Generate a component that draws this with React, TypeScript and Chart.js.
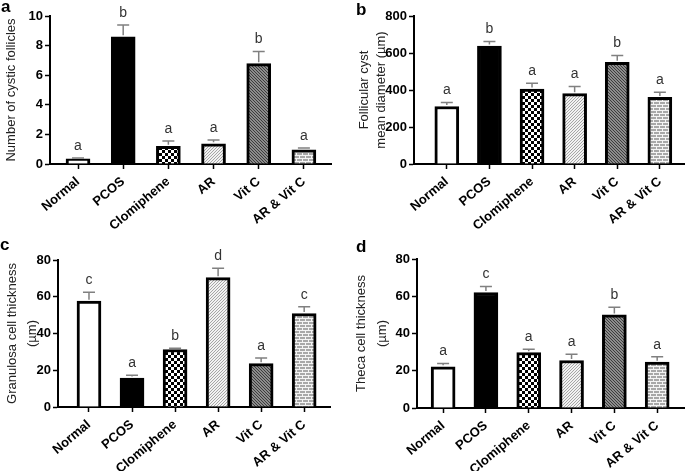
import React, { useEffect, useRef } from 'react';
import { Chart, registerables } from 'chart.js';
Chart.register(...registerables);

const CATEGORIES = ['Normal', 'PCOS', 'Clomiphene', 'AR', 'Vit C', 'AR & Vit C'];
const FILLS = ['white', 'black', 'checker', 'diagUp', 'diagDown', 'brick'];

const FOLLICLE_MEAN = [0.35, 8.6, 1.2, 1.37, 6.78, 0.95];
const FOLLICLE_ERR = [0.05, 0.8, 0.35, 0.25, 0.82, 0.13];
const FOLLICLE_LETTERS = ['a', 'b', 'a', 'a', 'b', 'a'];

const DIAMETER_MEAN = [311, 638, 405, 380, 550, 360];
const DIAMETER_ERR = [22, 24, 32, 39, 36, 28];
const DIAMETER_LETTERS = ['a', 'b', 'a', 'a', 'b', 'a'];

const GRANULOSA_MEAN = [57.6, 15.8, 31.3, 70.4, 23.6, 50.9];
const GRANULOSA_ERR = [4.8, 1.5, 0.7, 5.1, 3.1, 3.6];
const GRANULOSA_LETTERS = ['c', 'a', 'b', 'd', 'a', 'c'];

const THECA_MEAN = [22.1, 62.0, 29.7, 25.5, 50.0, 24.6];
const THECA_ERR = [1.8, 3.3, 1.9, 3.3, 4.1, 2.9];
const THECA_LETTERS = ['a', 'c', 'a', 'a', 'b', 'a'];

function makeFill(kind: string): any {
  if (kind === 'white') return '#ffffff';
  if (kind === 'black') return '#000000';
  const c = document.createElement('canvas');
  const x = c.getContext('2d')!;
  if (kind === 'checker') {
    c.width = 6; c.height = 6;
    x.fillStyle = '#ffffff'; x.fillRect(0, 0, 6, 6);
    x.fillStyle = '#000000'; x.fillRect(0, 0, 3, 3); x.fillRect(3, 3, 3, 3);
  } else if (kind === 'diagUp') {
    c.width = 3; c.height = 3;
    x.fillStyle = '#f2f2f2'; x.fillRect(0, 0, 3, 3);
    x.fillStyle = '#a6a6a6';
    for (let i = 0; i < 3; i++) for (let j = 0; j < 3; j++) if ((i + j) % 3 === 0) x.fillRect(i, j, 1, 1);
  } else if (kind === 'diagDown') {
    c.width = 3; c.height = 3;
    x.fillStyle = '#8c8c8c'; x.fillRect(0, 0, 3, 3);
    x.fillStyle = '#3c3c3c';
    for (let i = 0; i < 3; i++) for (let j = 0; j < 3; j++) if ((i - j + 3) % 3 === 0) x.fillRect(i, j, 1, 1);
  } else if (kind === 'brick') {
    c.width = 6; c.height = 6;
    x.fillStyle = '#f4f4f4'; x.fillRect(0, 0, 6, 6);
    x.fillStyle = '#a8a8a8';
    x.fillRect(0, 0, 5, 2);
    x.fillRect(3, 3, 3, 2); x.fillRect(0, 3, 2, 2);
  }
  return x.createPattern(c, 'repeat');
}

type Panel = {
  mean: number[]; err: number[]; letters: string[];
  yMax: number; yStep: number; yTitle: string | string[];
  left: number; top: number; width: number; height: number;
  yWidth: number; padTop: number; xHeight: number; padRight: number;
  xMin: number; xMax: number; titlePad: number; titleLH: number;
  label: string;
};

const PANELS: Panel[] = [
  { mean: FOLLICLE_MEAN, err: FOLLICLE_ERR, letters: FOLLICLE_LETTERS, yMax: 10, yStep: 2,
    yTitle: 'Number of cystic follicles', left: 0, top: 0, width: 342, height: 235,
    yWidth: 50, padTop: 16, xHeight: 71, padRight: 11, xMin: -0.62, xMax: 5.6, titlePad: 4, titleLH: 1.2, label: 'a' },
  { mean: DIAMETER_MEAN, err: DIAMETER_ERR, letters: DIAMETER_LETTERS, yMax: 800, yStep: 200,
    yTitle: ['Follicular cyst', 'mean diameter (µm)'], left: 342, top: 0, width: 343, height: 235,
    yWidth: 72, padTop: 16, xHeight: 71, padRight: 0, xMin: -0.77, xMax: 5.59, titlePad: 14, titleLH: 1.3, label: 'b' },
  { mean: GRANULOSA_MEAN, err: GRANULOSA_ERR, letters: GRANULOSA_LETTERS, yMax: 80, yStep: 20,
    yTitle: ['Granulosa cell thickness', '(µm)'], left: 0, top: 235, width: 342, height: 236,
    yWidth: 58, padTop: 25, xHeight: 64, padRight: 12, xMin: -0.72, xMax: 5.6, titlePad: 2, titleLH: 1.55, label: 'c' },
  { mean: THECA_MEAN, err: THECA_ERR, letters: THECA_LETTERS, yMax: 80, yStep: 20,
    yTitle: ['Theca cell thickness', '(µm)'], left: 342, top: 235, width: 343, height: 236,
    yWidth: 75, padTop: 24, xHeight: 63, padRight: 0, xMin: -0.61, xMax: 5.65, titlePad: 9, titleLH: 1.6, label: 'd' },
];

const FONT = 'Arial, "Liberation Sans", Helvetica, sans-serif';

function PanelChart({ p }: { p: Panel }) {
  const ref = useRef<HTMLCanvasElement>(null);
  useEffect(() => {
    const fills = FILLS.map(makeFill);
    const annot = {
      id: 'annot',
      afterDatasetsDraw(chart: any) {
        const ctx = chart.ctx;
        const xs = chart.scales.x, ys = chart.scales.y;
        ctx.save();
        p.mean.forEach((m, i) => {
          const cx = xs.getPixelForValue(i);
          const y0 = ys.getPixelForValue(m);
          const y1 = ys.getPixelForValue(m + p.err[i]);
          ctx.strokeStyle = '#808080';
          ctx.lineWidth = 1.5;
          ctx.beginPath();
          ctx.moveTo(cx, y0 - 1.5); ctx.lineTo(cx, y1);
          ctx.moveTo(cx - 6, y1); ctx.lineTo(cx + 6, y1);
          ctx.stroke();
          ctx.fillStyle = '#333333';
          ctx.font = '14px ' + FONT;
          ctx.textAlign = 'center';
          ctx.textBaseline = 'middle';
          ctx.fillText(p.letters[i], cx, y1 - 12);
        });
        ctx.restore();
      },
    };
    const chart = new Chart(ref.current!, {
      type: 'bar',
      data: {
        datasets: [{
          data: p.mean.map((v, i) => ({ x: i, y: v })),
          backgroundColor: fills,
          borderColor: '#000000',
          borderWidth: 3,
          barThickness: 24,
        }],
      },
      options: {
        animation: false,
        responsive: false,
        devicePixelRatio: 1,
        layout: { padding: { top: p.padTop, right: p.padRight, left: 0, bottom: 0 } },
        plugins: { legend: { display: false }, tooltip: { enabled: false } },
        scales: {
          x: {
            type: 'linear', min: p.xMin, max: p.xMax, offset: false,
            afterBuildTicks: (s: any) => { s.ticks = CATEGORIES.map((_, i) => ({ value: i })); },
            afterFit: (s: any) => { s.height = p.xHeight; },
            border: { display: true, color: '#000', width: 2 },
            grid: { offset: false, drawOnChartArea: false, drawTicks: true, tickLength: 5, color: '#000', tickColor: '#000', tickWidth: 1.5 },
            ticks: {
              callback: (v: any) => CATEGORIES[v] ?? '',
              autoSkip: false, minRotation: 40, maxRotation: 40, padding: 5,
              color: '#000', font: { family: FONT, size: 13, weight: 'bold' },
            },
          },
          y: {
            min: 0, max: p.yMax,
            afterFit: (s: any) => { s.width = p.yWidth; },
            border: { display: true, color: '#000', width: 2 },
            grid: { drawOnChartArea: false, drawTicks: true, tickLength: 5, color: '#000', tickColor: '#000', tickWidth: 1.5 },
            ticks: { stepSize: p.yStep, padding: 2, color: '#000', font: { family: FONT, size: 13, weight: 'bold' } },
            title: {
              display: true, text: p.yTitle, color: '#222',
              font: { family: FONT, size: 13, lineHeight: p.titleLH },
              padding: { top: p.titlePad, bottom: 0 },
            },
          },
        },
      } as any,
      plugins: [annot],
    });
    return () => chart.destroy();
  }, [p]);
  return (
    <canvas ref={ref} width={p.width} height={p.height}
      style={{ position: 'absolute', left: p.left, top: p.top, width: p.width, height: p.height }} />
  );
}

const LABEL_POS: Record<string, [number, number]> = { a: [1, -2], b: [356, 1], c: [0, 236], d: [356, 238] };

export default function App() {
  return (
    <div style={{ position: 'absolute', left: 0, top: 0, width: 685, height: 471, background: '#fff', overflow: 'hidden' }}>
      {PANELS.map((p) => <PanelChart key={p.label} p={p} />)}
      {PANELS.map((p) => (
        <div key={'l' + p.label} style={{
          position: 'absolute', left: LABEL_POS[p.label][0], top: LABEL_POS[p.label][1],
          font: 'bold 17px ' + FONT, color: '#000', lineHeight: '17px',
        }}>{p.label}</div>
      ))}
    </div>
  );
}
